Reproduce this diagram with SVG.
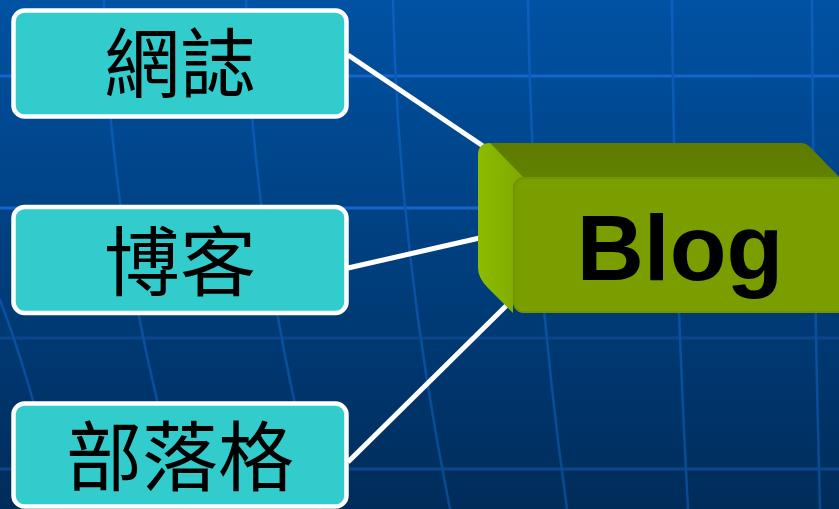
<svg xmlns="http://www.w3.org/2000/svg" width="839" height="509" viewBox="0 0 839 509">
  <defs>
    <linearGradient id="bg" x1="0" y1="0" x2="0" y2="1">
      <stop offset="0" stop-color="#0052a3"/>
      <stop offset="1" stop-color="#002c5a"/>
    </linearGradient>
    <linearGradient id="gridV" gradientUnits="userSpaceOnUse" x1="0" y1="0" x2="0" y2="509">
      <stop offset="0" stop-color="#0a5fbf"/>
      <stop offset="1" stop-color="#08498f"/>
    </linearGradient>
    <linearGradient id="leftFace" x1="0" y1="0" x2="1" y2="0">
      <stop offset="0" stop-color="#8cbc00"/>
      <stop offset="1" stop-color="#7fa800"/>
    </linearGradient>
    <linearGradient id="topFace" x1="0" y1="0" x2="0" y2="1">
      <stop offset="0" stop-color="#5d7b00"/>
      <stop offset="1" stop-color="#628200"/>
    </linearGradient>
  </defs>
  <style>
    .grid { fill: none; stroke: url(#gridV); stroke-width: 2.5; }
    .hbright { stroke: #1466cc; stroke-width: 3; }
    .hdim { stroke: #0a4689; stroke-width: 3; }
    .box { fill: #33cccc; stroke: #ffffff; stroke-width: 4.5; }
    .cjk { font-family: "Noto Sans CJK TC", "Noto Sans CJK SC", sans-serif; font-size: 76px; fill: #000000; text-anchor: middle; }
    .conn { stroke: #ffffff; stroke-width: 5; fill: none; }
  </style>

  <rect x="0" y="0" width="839" height="509" fill="url(#bg)"/>

  <g id="grid">
    <line class="hbright" x1="0" y1="76" x2="839" y2="76"/>
    <line class="hbright" x1="0" y1="208" x2="839" y2="208"/>
    <line class="hdim" x1="0" y1="338" x2="839" y2="338"/>
    <line class="hdim" x1="0" y1="469" x2="839" y2="469"/>
    <path class="grid" d="M-40,230 Q0,260 62,509"/>
    <path class="grid" d="M104,0 Q110,250 186,509"/>
    <path class="grid" d="M246,0 Q252,250 320,509"/>
    <path class="grid" d="M393,0 Q398,250 450,509"/>
    <path class="grid" d="M528,0 Q531,250 567,509"/>
    <path class="grid" d="M672,0 Q674,250 688,509"/>
    <path class="grid" d="M812,0 Q813,250 820,509"/>
  </g>

  <g id="connectors">
    <line class="conn" x1="348" y1="55" x2="486" y2="148"/>
    <line class="conn" x1="348" y1="268" x2="484" y2="237"/>
    <line class="conn" x1="348" y1="462" x2="516" y2="296"/>
  </g>

  <g id="node-wangzhi">
    <rect class="box" x="13.5" y="10.5" width="333" height="106" rx="11"/>
    <text class="cjk" x="180" y="92">網誌</text>
  </g>

  <g id="node-boke">
    <rect class="box" x="13.5" y="207" width="333" height="106" rx="11"/>
    <text class="cjk" x="180" y="290">博客</text>
  </g>

  <g id="node-buluoge">
    <rect class="box" x="13.5" y="403.5" width="333" height="103" rx="11"/>
    <text class="cjk" x="180" y="485">部落格</text>
  </g>

  <g id="node-blog">
    <path d="M490,143 L801,143 Q806,143 810,147 L845,183 L513,183 Z" fill="url(#topFace)"/>
    <path d="M478,155 Q478,143 490,143 L523,177 L513,187 L513,313 L488,288 Q478,278 478,268 Z" fill="url(#leftFace)"/>
    <rect x="513" y="177" width="345" height="136" rx="11" fill="#7a9e00"/>
    <rect x="514" y="178" width="343" height="134" rx="10" fill="none" stroke="#6f9300" stroke-width="1.5"/>
    <text x="680" y="280" font-family="'Liberation Sans', Arial, sans-serif" font-weight="bold" font-size="93" text-anchor="middle" fill="#000000">Blog</text>
  </g>
</svg>
